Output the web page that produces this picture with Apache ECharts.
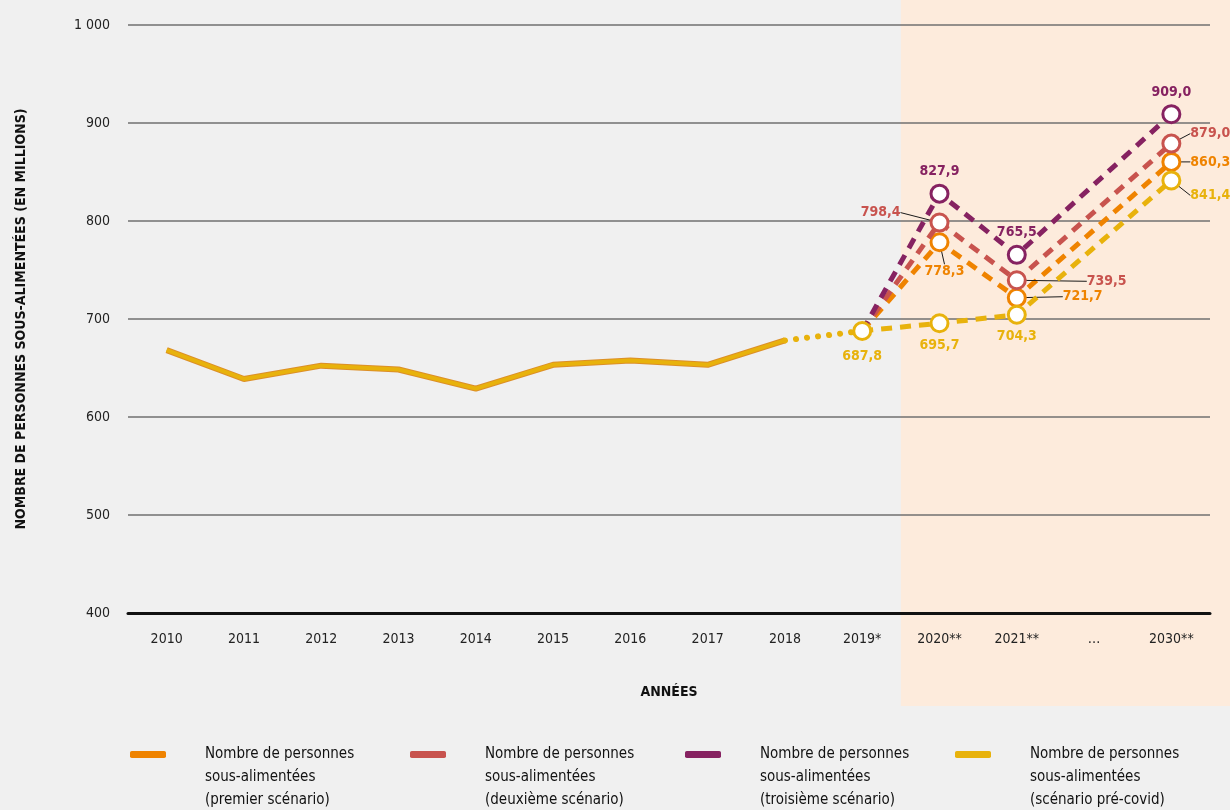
<!DOCTYPE html>
<html>
<head>
<meta charset="utf-8">
<script src="https://cdn.jsdelivr.net/npm/echarts@6/dist/echarts.min.js"></script>
<style>
    html, body { margin: 0; background: #f0f0f0; }
    #chart { width: 1230px; height: 810px; }
</style>
</head>
<body>
<div id="chart"></div>
<script>
// categories and values
var categories = ['2010', '2011', '2012', '2013', '2014', '2015', '2016', '2017', '2018', '2019*', '2020**', '2021**', '…', '2030**'];
var historique = [668.2, 638.8, 652.4, 648.5, 628.9, 653.3, 657.6, 653.2, 678.1];
var valeur2019 = 687.8;
// values for 2020, 2021, 2030
var premier = [778.3, 721.7, 860.3];
var deuxieme = [798.4, 739.5, 879.0];
var troisieme = [827.9, 765.5, 909.0];
var precovid = [695.7, 704.3, 841.4];

var FONT = "'DejaVu Sans Condensed', 'Noto Sans', sans-serif";
var C_ORANGE = '#ef8300';
var C_RED = '#c8534e';
var C_PURPLE = '#862261';
var C_YELLOW = '#e8b20c';

function fmt(v) {
    return v.toFixed(1).replace('.', ',');
}

// label placement for the 2020, 2021, 2030 points
var labelPos = {
    premier: [
        {position: 'bottom', offset: [5, 7], line: true},
        {position: 'right', offset: [31, -1], line: true},
        {position: 'right', offset: [4, 0], line: true}
    ],
    deuxieme: [
        {position: 'left', offset: [-24, -10], line: true},
        {position: 'right', offset: [55, 1], line: true},
        {position: 'right', offset: [4, -10], line: true}
    ],
    troisieme: [
        {position: 'top', offset: [0, 0]},
        {position: 'top', offset: [0, 0]},
        {position: 'top', offset: [0, 0]}
    ],
    precovid: [
        {position: 'bottom', offset: [0, 0]},
        {position: 'bottom', offset: [0, 0]},
        {position: 'right', offset: [4, 15], line: true}
    ]
};

function point(v, pos, color) {
    return {
        value: v,
        label: {show: true, position: pos.position, offset: pos.offset, color: color},
        labelLine: {show: !!pos.line, lineStyle: {color: '#1a1a1a', width: 1}}
    };
}

function scenarioData(vals, positions, color, first) {
    var data = [];
    for (var i = 0; i < 9; i++) data.push(null);
    if (first) {
        data.push({value: valeur2019, label: {show: true, position: 'bottom', offset: [0, 3], color: color}});
    } else {
        data.push({value: valeur2019, symbol: 'none'});
    }
    data.push(point(vals[0], positions[0], color));
    data.push(point(vals[1], positions[1], color));
    data.push(null);
    data.push(point(vals[2], positions[2], color));
    return data;
}

function scenarioSeries(name, vals, positions, color, z, first) {
    return {
        name: name,
        type: 'line',
        z: z,
        data: scenarioData(vals, positions, color, first),
        connectNulls: true,
        symbol: 'circle',
        symbolSize: 17,
        itemStyle: {color: '#fff', borderColor: color, borderWidth: 3},
        lineStyle: {color: color, width: 5, type: [11, 8]},
        label: {
            fontFamily: FONT, fontSize: 14, fontWeight: 'bold',
            formatter: function (p) { return fmt(p.value); }
        },
        emphasis: {disabled: true}
    };
}

var histData = historique.slice();
var dotData = [];
for (var i = 0; i < categories.length; i++) dotData.push(null);
dotData[8] = historique[8];
dotData[9] = valeur2019;

var names = ['premier scénario', 'deuxième scénario', 'troisième scénario', 'scénario pré-covid'];
var colors = [C_ORANGE, C_RED, C_PURPLE, C_YELLOW];
var legendLeft = [130, 410, 685, 955];

var option = {
    backgroundColor: '#f0f0f0',
    animation: false,
    textStyle: {fontFamily: FONT},
    grid: {left: 128, right: 20, top: 25, bottom: 197},
    legend: names.map(function (n, i) {
        return {
            data: [{name: n, itemStyle: {color: colors[i], borderWidth: 0}}],
            left: legendLeft[i],
            top: 697,
            padding: 0,
            icon: 'roundRect',
            itemWidth: 36,
            itemHeight: 7,
            selectedMode: false,
            // two empty lines first so the icon sits beside the first text line
            formatter: function (name) {
                return '\n\nNombre de personnes\nsous-alimentées\n(' + name + ')';
            },
            textStyle: {
                fontFamily: FONT, fontSize: 15, lineHeight: 23, color: '#111',
                padding: [0, 0, 0, 34]
            }
        };
    }),
    xAxis: {
        type: 'category',
        data: categories,
        axisTick: {show: false},
        axisLine: {lineStyle: {color: '#111', width: 3}},
        axisLabel: {color: '#222', fontSize: 14, margin: 19, fontFamily: FONT},
        name: 'ANNÉES',
        nameLocation: 'middle',
        nameGap: 72,
        nameTextStyle: {color: '#111', fontSize: 14, fontWeight: 'bold', fontFamily: FONT}
    },
    yAxis: {
        type: 'value',
        min: 400,
        max: 1000,
        interval: 100,
        axisLine: {show: false},
        axisTick: {show: false},
        splitLine: {lineStyle: {color: '#707070', width: 1.5}},
        axisLabel: {
            color: '#222', fontSize: 14, margin: 18, fontFamily: FONT,
            formatter: function (v) { return v >= 1000 ? '1 000' : String(v); }
        },
        name: 'NOMBRE DE PERSONNES SOUS-ALIMENTÉES (EN MILLIONS)',
        nameLocation: 'middle',
        nameGap: 100,
        nameTextStyle: {color: '#111', fontSize: 14, fontWeight: 'bold', fontFamily: FONT}
    },
    series: [
        {
            name: 'hist-base', type: 'line', z: 2, data: histData, symbol: 'none',
            lineStyle: {color: '#dc8f28', width: 6}, emphasis: {disabled: true}
        },
        {
            name: 'hist', type: 'line', z: 3, data: histData, symbol: 'none',
            lineStyle: {color: C_YELLOW, width: 4}, emphasis: {disabled: true}
        },
        {
            name: 'hist-dots', type: 'line', z: 3, data: dotData, symbol: 'none',
            lineStyle: {color: C_YELLOW, width: 6, type: [0.1, 11], cap: 'round'}, emphasis: {disabled: true}
        },
        scenarioSeries(names[0], premier, labelPos.premier, C_ORANGE, 4, false),
        scenarioSeries(names[1], deuxieme, labelPos.deuxieme, C_RED, 5, false),
        scenarioSeries(names[2], troisieme, labelPos.troisieme, C_PURPLE, 6, false),
        scenarioSeries(names[3], precovid, labelPos.precovid, C_YELLOW, 7, true)
    ]
};

var chart = echarts.init(document.getElementById('chart'));
chart.setOption(option);

// shaded projection zone, from the axis
var x0 = chart.convertToPixel({xAxisIndex: 0}, '2019*');
var x1 = chart.convertToPixel({xAxisIndex: 0}, '2020**');
var xs = (x0 + x1) / 2;
chart.setOption({
    graphic: [{
        type: 'rect', z: -10, silent: true,
        shape: {x: xs, y: 0, width: 1230 - xs, height: 706},
        style: {fill: '#fdebdc'}
    }]
});
</script>
</body>
</html>
